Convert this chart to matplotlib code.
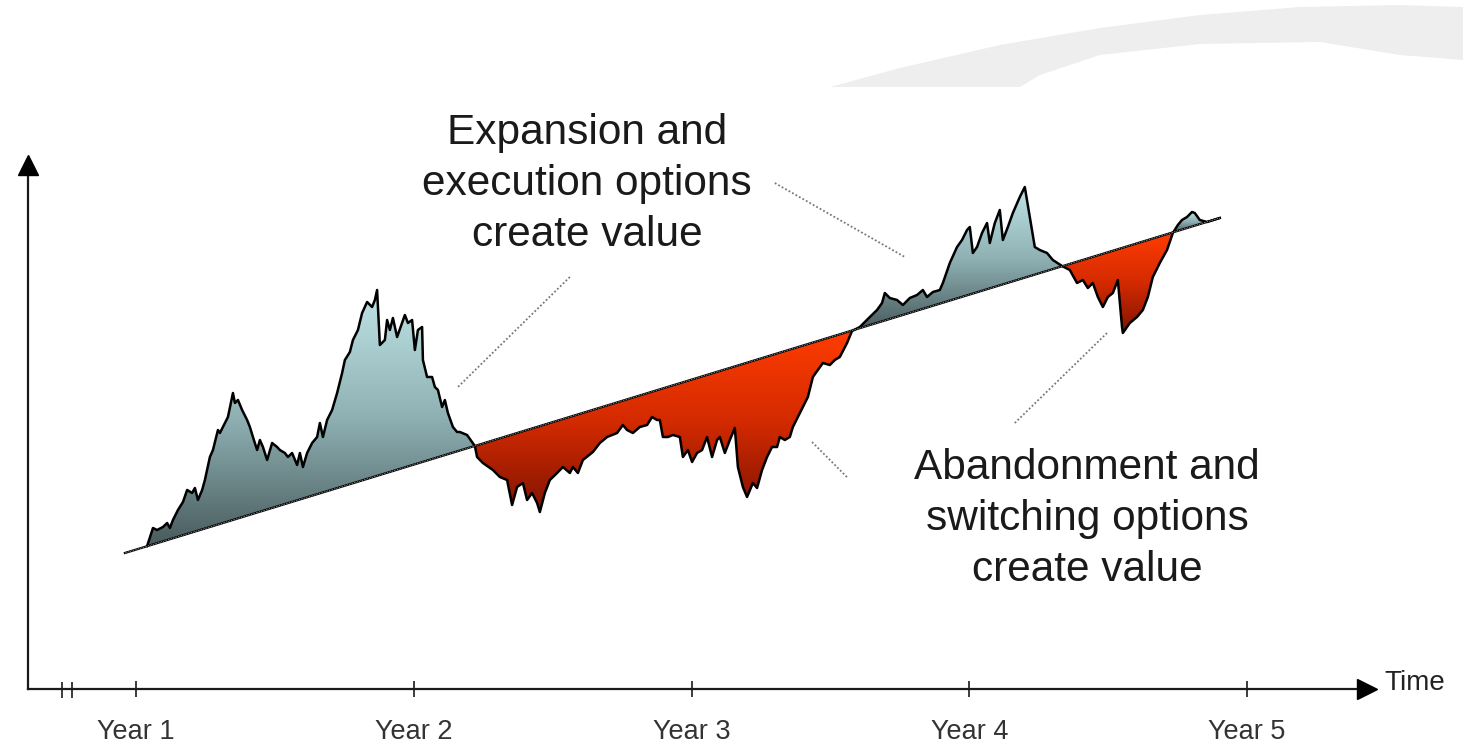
import numpy as np
import matplotlib.pyplot as plt
from matplotlib.colors import LinearSegmentedColormap

plt.rcParams['font.family'] = ['Liberation Sans', 'DejaVu Sans']

# ----------------------------
# Data (time in years, value in arbitrary units)
# ----------------------------
years = [1, 2, 3, 4, 5]
year_labels = ["Year 1", "Year 2", "Year 3", "Year 4", "Year 5"]

# straight "expected value" line
trend_t = [0.960, 4.902]
trend_v = [13.6, 47.1]

# simulated value path
path_t = [
    1.040, 1.061, 1.076, 1.097, 1.112, 1.122, 1.133, 1.151, 1.169, 1.184,
    1.202, 1.212, 1.223, 1.238, 1.248, 1.266, 1.277, 1.295, 1.302, 1.313,
    1.331, 1.349, 1.356, 1.367, 1.382, 1.400, 1.410, 1.421, 1.436, 1.446,
    1.457, 1.472, 1.490, 1.508, 1.518, 1.536, 1.547, 1.562, 1.580, 1.590,
    1.601, 1.616, 1.634, 1.652, 1.662, 1.673, 1.688, 1.706, 1.724, 1.742,
    1.752, 1.770, 1.781, 1.799, 1.814, 1.832, 1.850, 1.860, 1.868, 1.878,
    1.896, 1.904, 1.914, 1.925, 1.940, 1.958, 1.968, 1.979, 1.994, 2.004,
    2.015, 2.030, 2.033, 2.048, 2.066, 2.076, 2.087, 2.102, 2.112, 2.123,
    2.141, 2.156, 2.166, 2.192, 2.220,
    2.228, 2.249, 2.285, 2.310, 2.336, 2.354, 2.372, 2.393, 2.408, 2.426,
    2.444, 2.454, 2.472, 2.490, 2.516, 2.537, 2.562, 2.573, 2.591, 2.609,
    2.645, 2.670, 2.696, 2.732, 2.753, 2.768, 2.789, 2.814, 2.840, 2.858,
    2.876, 2.886, 2.897, 2.915, 2.933, 2.958, 2.969, 2.987, 3.002, 3.020,
    3.038, 3.056, 3.074, 3.092, 3.102, 3.120, 3.138, 3.156, 3.167, 3.185,
    3.200, 3.221, 3.236, 3.254, 3.272, 3.290, 3.308, 3.318, 3.336, 3.354,
    3.365, 3.383, 3.401, 3.419, 3.437, 3.455, 3.473, 3.498, 3.516, 3.534,
    3.560, 3.578,
    3.606, 3.642, 3.668, 3.686, 3.696, 3.714, 3.740, 3.761, 3.786, 3.812,
    3.833, 3.848, 3.869, 3.894, 3.905, 3.930, 3.956, 3.974, 3.992, 4.002,
    4.013, 4.028, 4.046, 4.064, 4.074, 4.092, 4.110, 4.121, 4.139, 4.157,
    4.182, 4.200, 4.218, 4.236, 4.254, 4.280, 4.301, 4.334,
    4.362, 4.388, 4.409, 4.427, 4.445, 4.463, 4.481, 4.499, 4.517, 4.535,
    4.550, 4.553, 4.578, 4.604, 4.625, 4.643, 4.661, 4.686, 4.712, 4.733,
    4.751, 4.766, 4.784, 4.802, 4.812, 4.830, 4.856, 4.902,
]
path_v = [
    14.3, 16.1, 15.9, 16.2, 16.6, 16.1, 16.9, 17.9, 18.7, 19.9,
    19.6, 20.1, 18.9, 19.9, 20.9, 23.2, 23.9, 25.9, 25.6, 26.2,
    27.2, 29.6, 28.6, 28.9, 27.9, 26.9, 26.2, 25.2, 23.9, 24.9,
    24.2, 22.9, 24.6, 24.2, 23.9, 23.6, 23.2, 23.6, 22.4, 23.6,
    22.2, 23.6, 24.6, 25.2, 26.6, 25.2, 26.9, 27.9, 29.6, 31.6,
    32.9, 33.7, 34.9, 35.9, 37.6, 38.7, 38.2, 38.9, 39.9, 34.4,
    34.9, 36.9, 35.9, 37.1, 35.2, 36.6, 37.4, 36.6, 36.9, 33.9,
    35.9, 36.2, 32.9, 31.2, 31.2, 30.2, 29.9, 28.2, 28.9, 27.6,
    26.2, 25.7, 25.7, 25.4, 24.3,
    23.2, 22.6, 21.9, 21.2, 20.9, 18.4, 20.2, 20.6, 18.9, 19.6,
    18.6, 17.7, 19.6, 20.9, 21.6, 22.2, 21.6, 22.2, 21.6, 22.9,
    23.7, 24.6, 25.2, 25.6, 26.4, 25.9, 25.6, 26.2, 26.4, 27.2,
    26.9, 26.9, 25.2, 25.2, 25.4, 25.2, 23.2, 23.9, 22.7, 23.6,
    23.9, 25.2, 23.2, 24.9, 25.2, 23.6, 24.9, 26.1, 22.2, 20.2,
    19.2, 20.6, 20.1, 21.9, 23.2, 24.2, 24.2, 25.2, 24.9, 25.2,
    26.2, 27.2, 28.2, 29.2, 31.2, 31.9, 32.6, 32.4, 32.9, 33.2,
    34.6, 35.8,
    36.2, 37.2, 37.9, 38.6, 39.6, 39.1, 38.9, 38.4, 39.1, 39.4,
    39.9, 39.2, 39.7, 39.9, 40.6, 42.6, 44.2, 44.9, 45.9, 46.2,
    43.6, 44.2, 45.6, 46.6, 44.6, 46.6, 47.9, 44.9, 46.2, 47.6,
    49.2, 50.2, 47.2, 44.2, 43.9, 43.6, 42.9, 42.3,
    41.9, 40.6, 40.9, 40.1, 40.6, 39.2, 38.2, 39.2, 39.6, 40.9,
    36.2, 35.6, 36.6, 37.2, 37.9, 39.2, 41.2, 42.6, 43.9, 45.6,
    46.4, 46.9, 47.2, 47.7, 47.6, 46.9, 46.7, 47.1,
]

# ----------------------------
# Figure: one axes filling the canvas
# ----------------------------
fig = plt.figure(figsize=(14.63, 7.46), dpi=100)
ax = fig.add_axes([0, 0, 1, 1])
xlim = (0.5103, 5.7777)
ylim = (-5.7, 68.9)

# faint watermark arc top right (decoration, figure fraction)
wm_x = [830, 900, 1000, 1100, 1200, 1300, 1400, 1463, 1463, 1400, 1320, 1200, 1100, 1040, 1020]
wm_y = [87, 68, 45, 28, 15, 7, 5, 7, 60, 55, 42, 44, 55, 75, 87]
fig.patches.append(plt.Polygon(
    np.column_stack([np.array(wm_x) / 1463, 1 - np.array(wm_y) / 746]),
    closed=True, transform=fig.transFigure, facecolor="#eeeeee", edgecolor="none", zorder=0))

t = np.array(path_t)
v = np.array(path_v)
base = np.interp(t, trend_t, trend_v)

teal = LinearSegmentedColormap.from_list("teal", ["#485b5d", "#8fb1b4", "#bfe3e6"])
red = LinearSegmentedColormap.from_list("red", ["#801400", "#d42a00", "#ff3d00"])

grad = np.linspace(0, 1, 256).reshape(-1, 1)
for where, cmap in [(v >= base, teal), (v <= base, red)]:
    coll = ax.fill_between(t, v, base, where=where, interpolate=True)
    paths = coll.get_paths()
    coll.remove()
    for p in paths:
        vx, vy = p.vertices[:, 0], p.vertices[:, 1]
        if vx.max() - vx.min() < 1e-3:
            continue
        im = ax.imshow(grad, extent=[vx.min(), vx.max(), vy.min(), vy.max()],
                       origin="lower", aspect="auto", cmap=cmap, zorder=2)
        im.set_clip_path(p, transform=ax.transData)

# path outline and trend line
ax.plot(t, v, color="black", lw=1.8, zorder=4)
ax.plot(trend_t, trend_v, color="black", lw=1.6, zorder=5)
ax.plot(trend_t, trend_v, color="white", lw=0.5, ls=(0, (1, 1.5)), zorder=6)

# ----------------------------
# Axes with arrows
# ----------------------------
x0 = 0.611
for s in ["top", "right"]:
    ax.spines[s].set_visible(False)
ax.spines["bottom"].set_position(("data", 0))
ax.spines["left"].set_position(("data", x0))
ax.spines["bottom"].set_bounds(x0, 5.43)
ax.spines["left"].set_bounds(0, 52.3)
for s in ["bottom", "left"]:
    ax.spines[s].set_linewidth(1.6)
    ax.spines[s].set_color("#1a1a1a")
ax.plot(5.432, 0, marker=">", ms=14, color="black", clip_on=False, zorder=6)
ax.plot(x0, 52.4, marker="^", ms=14, color="black", clip_on=False, zorder=6)

ax.set_xticks(years)
ax.set_xticklabels(year_labels)
ax.tick_params(axis="x", direction="inout", length=11, width=1.2, pad=16,
               labelsize=19.5, labelcolor="#333333", color="#1a1a1a")
ax.set_yticks([])
# axis break marks
ax.vlines([0.734, 0.770], -0.9, 0.7, color="#1a1a1a", lw=1.2)

ax.text(5.496, 0.6, "Time", fontsize=20, color="#222222", ha="left", va="center")

# ----------------------------
# Annotations
# ----------------------------
ax.text(2.624, 50.5, "Expansion and\nexecution options\ncreate value",
        fontsize=30.5, ha="center", va="center", linespacing=1.35, color="#1a1a1a")
ax.text(4.424, 17.0, "Abandonment and\nswitching options\ncreate value",
        fontsize=30.5, ha="center", va="center", linespacing=1.35, color="#1a1a1a")

leaders = [((2.562, 41.2), (2.159, 30.2)),
           ((3.300, 50.6), (3.768, 43.2)),
           ((3.434, 24.7), (3.563, 21.1)),
           ((4.496, 35.6), (4.164, 26.6))]
for (xa, ya), (xb, yb) in leaders:
    ax.plot([xa, xb], [ya, yb], color="#777777", lw=1.3, ls=(0, (1, 1.2)), zorder=3)

ax.set_xlim(*xlim)
ax.set_ylim(*ylim)
ax.patch.set_visible(False)

fig.savefig("out.png", dpi=100)
